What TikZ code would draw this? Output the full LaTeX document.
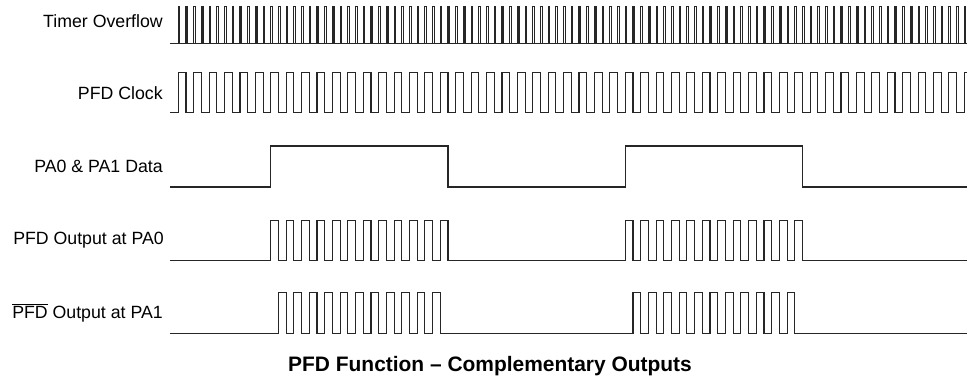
\documentclass[tikz,border=0pt]{standalone}
\usepackage{fontspec}
\setmainfont{Liberation Sans}
\usetikzlibrary{calc}
\tikzset{
	wave/.style={draw=black!85, line width=0.85pt},
	siglabel/.style={anchor=east, inner sep=0pt, font=\fontsize{13.3}{15}\selectfont},
	declare function={tk(\k)=178.3+7.706*\k;}
}

\begin{document}
\begin{tikzpicture}[x=0.75pt, y=-0.75pt]
			\useasboundingbox (0,0) rectangle (967,379); %alignment

			% timer overflow
			\node[siglabel] (timer) at (163,21) {Timer Overflow};
			\draw[wave] (170,43.3) -- (967,43.3);
			\foreach \k in {0,...,102}
				\draw[wave] ({tk(\k)},43.3) |- ({tk(\k)+1.6},6.7) -- ({tk(\k)+1.6},43.3);

			% clock
			\node[siglabel] (clk) at (163,92.7) {PFD Clock};
			\draw[wave] (170,112.7) \foreach \k in {0,...,102} { -| ({tk(\k)},{iseven(\k) ? 72.7 : 112.7}) } -- (967,72.7);

			% data
			\node[siglabel] (data) at (163,166.5) {PA0 \& PA1 Data};
			\draw[wave] (170,187) -| ({tk(12)},146) -| ({tk(35)},187) -| ({tk(58)},146) -| ({tk(81)},187) -- (967,187);

			% outputs
			\node[siglabel] (pa0) at (164,240.6) {PFD Output at PA0};
			\draw[wave] (170,260.8) \foreach \k in {12,14,...,34,58,60,...,80} { -| ({tk(\k)},220.5) -| ({tk(\k+1)},260.8) } -- (967,260.8);
			\node[siglabel] (pa1) at (163,313) {$\overline{\hbox{PFD}}$ Output at PA1};
			\draw[wave] (170,333.3) \foreach \k in {13,15,...,33,59,61,...,79} { -| ({tk(\k)},292.7) -| ({tk(\k+1)},333.3) } -- (967,333.3);

			\node[font=\bfseries\fontsize{15.7}{18}\selectfont] (title) at (490,366) {PFD Function -- Complementary Outputs};
\end{tikzpicture}
\end{document}
